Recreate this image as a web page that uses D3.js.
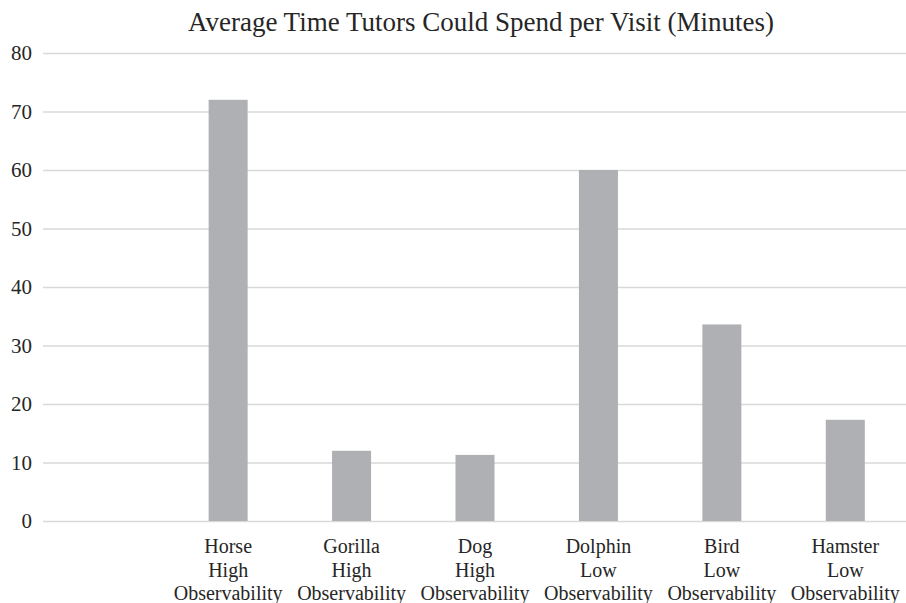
<!DOCTYPE html>
<html>
<head>
<meta charset="utf-8">
<script src="https://cdn.jsdelivr.net/npm/d3@7"></script>
<style>
  body { margin: 0; background: #fff; }
</style>
</head>
<body>
<div id="chart-container"></div>
<script>
// Chart data (first slot is an empty category in the source chart)
const categories = ["", "Horse", "Gorilla", "Dog", "Dolphin", "Bird", "Hamster"];
const groups = ["", "High", "High", "High", "Low", "Low", "Low"];
const values = [null, 72, 12, 11.3, 60, 33.6, 17.3];
const yTicks = [0, 10, 20, 30, 40, 50, 60, 70, 80];
const title = "Average Time Tutors Could Spend per Visit (Minutes)";

const serif = "'Liberation Serif'";
const textColor = "#262626";
const W = 906, H = 603;
const margin = { top: 53, right: 0, bottom: 82, left: 43 };

const svg = d3.select("#chart-container")
    .append("svg")
    .attr("width", W)
    .attr("height", H);

const x = d3.scaleBand()
    .domain(categories.map((d, i) => i))
    .range([margin.left, 907])
    .paddingInner(0.684)
    .paddingOuter(0.342);

const y = d3.scaleLinear()
    .domain([0, 80])
    .range([521, margin.top]);

// gridlines + tick labels
const yAxis = svg.append("g")
    .attr("transform", `translate(${margin.left},0)`)
    .call(d3.axisLeft(y)
        .tickValues(yTicks)
        .tickSize(-(906 - margin.left))
        .tickPadding(11)
        .tickFormat(d3.format("d")));
yAxis.select(".domain").remove();
yAxis.selectAll(".tick line")
    .attr("stroke", "#d9d9d9")
    .attr("stroke-width", 1.4);
yAxis.selectAll(".tick text")
    .style("font-family", serif)
    .style("font-size", "21px")
    .attr("fill", textColor);

// bars
svg.append("g")
    .selectAll("rect")
    .data(values.map((v, i) => ({ i, v })).filter(d => d.v != null))
    .join("rect")
    .attr("x", d => x(d.i))
    .attr("y", d => y(d.v))
    .attr("width", x.bandwidth())
    .attr("height", d => y(0) - y(d.v))
    .attr("fill", "#afb0b3");

// category labels (three lines each)
const labels = svg.append("g")
    .selectAll("text")
    .data(categories.map((c, i) => ({ i, c, g: groups[i] })).filter(d => d.c))
    .join("text")
    .attr("text-anchor", "middle")
    .attr("fill", textColor)
    .style("font-family", serif)
    .style("font-size", "20px");
labels.each(function(d) {
    const t = d3.select(this);
    const cx = x(d.i) + x.bandwidth() / 2;
    [d.c, d.g, "Observability"].forEach((line, k) => {
        t.append("tspan")
            .attr("x", cx)
            .attr("y", 553 + k * 23.5)
            .text(line);
    });
});

// title
svg.append("text")
    .attr("x", 481)
    .attr("y", 31)
    .attr("text-anchor", "middle")
    .attr("fill", textColor)
    .style("font-family", serif)
    .style("font-size", "27px")
    .text(title);
</script>
</body>
</html>
